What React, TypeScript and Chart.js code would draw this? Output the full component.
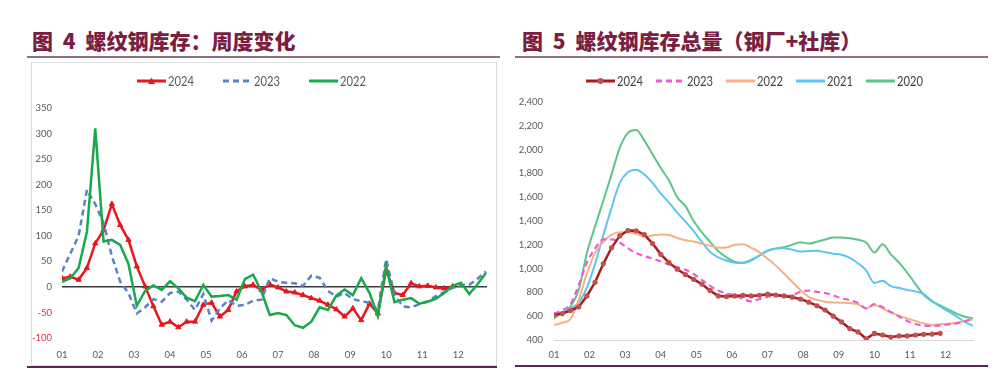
import React, { useEffect, useRef } from "react";
import { Chart, registerables } from "chart.js";

Chart.register(...registerables);

// ---------- shared ----------
const MONTH_LABELS = ["01", "02", "03", "04", "05", "06", "07", "08", "09", "10", "11", "12"];
const WEEKS_PER_YEAR = 52;

// ---------- 图4：周度变化 ----------
const CHANGE_SERIES_NAMES = ["2024", "2023", "2022"];
const CHANGE_2024 = [17, 20, 14, 37, 85, 111, 162, 121, 92, 40, 1, -38, -74, -68, -79, -68, -68, -35, -31, -58, -45, -9, 1, 4, -6, 5, -1, -9, -11, -16, -22, -27, -35, -44, -58, -42, -65, -33, -52, 33, -12, -16, 7, 1, 2, -1, -3, 1];
const CHANGE_2023 = [30, 65, 100, 190, 162, 125, 60, 10, -12, -52, -40, -24, -29, -12, -9, -25, -45, -14, -66, -42, -26, -37, -35, -27, -25, 17, 10, 8, 7, 2, 22, 18, -8, -19, -12, -24, -28, -31, -45, 54, -15, -38, -40, -34, -28, -18, -10, -2, 3, 4, 16, 30];
const CHANGE_2022 = [10, 17, 37, 108, 310, 89, 92, 82, 45, -37, -8, 3, -6, 11, -3, -21, -28, 4, -19, -18, -16, -25, 15, 24, -9, -55, -51, -55, -75, -80, -68, -40, -45, -17, -5, -16, 17, -12, -57, 40, -30, -25, -22, -33, -29, -23, -12, 2, 8, -14, 5, 27];
const CHANGE_Y_MIN = -100;
const CHANGE_Y_MAX = 350;
const CHANGE_Y_STEP = 50;

// ---------- 图5：库存总量 ----------
const TOTAL_SERIES_NAMES = ["2024", "2023", "2022", "2021", "2020"];
const TOTAL_2024 = [610, 622, 648, 678, 770, 885, 1040, 1175, 1275, 1320, 1318, 1285, 1210, 1120, 1050, 995, 950, 910, 870, 815, 770, 765, 770, 775, 770, 776, 785, 778, 770, 760, 744, 718, 688, 652, 600, 552, 496, 468, 410, 455, 442, 425, 434, 434, 442, 448, 450, 456];
const TOTAL_2023 = [620, 650, 700, 860, 1050, 1170, 1245, 1245, 1220, 1170, 1130, 1105, 1084, 1060, 1035, 1010, 990, 955, 905, 855, 815, 790, 775, 745, 725, 742, 762, 775, 770, 775, 805, 815, 805, 795, 775, 750, 735, 712, 665, 702, 675, 635, 598, 560, 535, 520, 518, 523, 530, 540, 558, 582];
const TOTAL_2022 = [526, 545, 575, 735, 960, 1130, 1225, 1285, 1305, 1305, 1292, 1270, 1278, 1287, 1282, 1258, 1238, 1228, 1208, 1192, 1176, 1178, 1200, 1205, 1175, 1138, 1083, 1025, 958, 888, 820, 763, 737, 722, 715, 713, 710, 700, 666, 694, 665, 630, 605, 582, 560, 538, 527, 532, 537, 545, 558, 574];
const TOTAL_2021 = [610, 630, 665, 715, 840, 1040, 1280, 1510, 1720, 1810, 1830, 1790, 1720, 1630, 1555, 1470, 1395, 1315, 1225, 1140, 1095, 1068, 1050, 1047, 1068, 1110, 1150, 1168, 1170, 1158, 1143, 1148, 1150, 1138, 1125, 1117, 1090, 1045, 985, 880, 897, 853, 837, 820, 808, 785, 730, 680, 640, 598, 552, 518];
const TOTAL_2020 = [582, 630, 680, 820, 1130, 1355, 1570, 1790, 2015, 2140, 2165, 2075, 1960, 1845, 1740, 1600, 1525, 1400, 1305, 1225, 1145, 1095, 1058, 1050, 1075, 1110, 1150, 1168, 1180, 1200, 1222, 1210, 1225, 1245, 1262, 1262, 1255, 1242, 1220, 1135, 1205, 1120, 1050, 965, 870, 780, 725, 690, 655, 622, 596, 582];
const TOTAL_Y_MIN = 400;
const TOTAL_Y_MAX = 2400;
const TOTAL_Y_STEP = 200;

// ---------- helpers ----------
const weekToMonth = (i: number) => 1 + (i * 12) / WEEKS_PER_YEAR;
const toPoints = (arr: number[]) => arr.map((y, i) => ({ x: weekToMonth(i), y }));
const monthTicks = (scale: any) => {
  scale.ticks = MONTH_LABELS.map((_, i) => ({ value: i + 1 }));
};
const monthLabel = (v: any) => MONTH_LABELS[Math.round(Number(v)) - 1] ?? "";

const TICK_FONT = { family: "Lato, 'Liberation Sans', sans-serif", size: 9.5 };
const TICK_COLOR = "#595959";
const NEG_COLOR = "#E0302F";

const C_RED = "#E8161D";
const C_BLUE = "#5B82C4";
const C_GREEN = "#19A84C";

const T_2024 = "#A81C22";
const T_2024_PT = "#C0504D";
const T_2023 = "#F25BD0";
const T_2022 = "#F5B183";
const T_2021 = "#5CC6EE";
const T_2020 = "#5EC48B";

const TITLE_COLOR = "#7A1F43";
const RULE_COLOR = "#8E7183";
const BOTTOM_RULE = "#5C2450";

// ---------- charts ----------
function ChangeChart() {
  const ref = useRef<HTMLCanvasElement>(null);
  useEffect(() => {
    const chart = new Chart(ref.current!, {
      type: "line",
      data: {
        datasets: [
          {
            label: CHANGE_SERIES_NAMES[0],
            data: toPoints(CHANGE_2024),
            borderColor: C_RED,
            backgroundColor: C_RED,
            borderWidth: 2.5,
            pointStyle: "triangle",
            pointRadius: 3,
            pointBorderWidth: 1,
            tension: 0,
            order: 2,
          },
          {
            label: CHANGE_SERIES_NAMES[1],
            data: toPoints(CHANGE_2023),
            borderColor: C_BLUE,
            backgroundColor: C_BLUE,
            borderWidth: 2.5,
            borderDash: [6, 4],
            pointRadius: 0,
            tension: 0,
            order: 1,
          },
          {
            label: CHANGE_SERIES_NAMES[2],
            data: toPoints(CHANGE_2022),
            borderColor: C_GREEN,
            backgroundColor: C_GREEN,
            borderWidth: 2.5,
            pointRadius: 0,
            tension: 0,
            order: 0,
          },
        ],
      },
      options: {
        animation: false,
        responsive: false,
        devicePixelRatio: 1,
        layout: { padding: { top: 46, right: 9, bottom: 0, left: 0 } },
        plugins: { legend: { display: false }, tooltip: { enabled: false } },
        scales: {
          x: {
            type: "linear",
            min: 1,
            max: 12.8,
            afterBuildTicks: monthTicks,
            afterFit: (s: any) => { s.height = 27; },
            grid: { display: false, drawTicks: false },
            border: { display: false },
            ticks: { callback: monthLabel, autoSkip: false, maxRotation: 0, padding: 11, color: TICK_COLOR, font: TICK_FONT },
          },
          y: {
            min: CHANGE_Y_MIN,
            max: CHANGE_Y_MAX,
            afterFit: (s: any) => { s.width = 31; },
            grid: {
              drawTicks: false,
              lineWidth: 1.5,
              color: (ctx: any) => (ctx.tick && ctx.tick.value === 0 ? "#3a3a3a" : "rgba(0,0,0,0)"),
            },
            border: { display: false },
            ticks: {
              stepSize: CHANGE_Y_STEP,
              padding: 10,
              font: TICK_FONT,
              color: (ctx: any) => (ctx.tick && ctx.tick.value < 0 ? NEG_COLOR : TICK_COLOR),
            },
          },
        },
      },
    } as any);
    return () => chart.destroy();
  }, []);
  return (
    <canvas
      ref={ref}
      width={465}
      height={303}
      style={{ position: "absolute", left: 31, top: 62, width: 465, height: 303 }}
    />
  );
}

function TotalChart() {
  const ref = useRef<HTMLCanvasElement>(null);
  useEffect(() => {
    const mk = (label: string, arr: number[], color: string, extra: any = {}) => ({
      label,
      data: toPoints(arr),
      borderColor: color,
      backgroundColor: color,
      borderWidth: 2,
      pointRadius: 0,
      tension: 0.3,
      cubicInterpolationMode: "monotone",
      ...extra,
    });
    const chart = new Chart(ref.current!, {
      type: "line",
      data: {
        datasets: [
          mk(TOTAL_SERIES_NAMES[0], TOTAL_2024, T_2024, {
            borderWidth: 2.5,
            pointRadius: 2.6,
            pointBorderWidth: 0,
            pointBackgroundColor: T_2024_PT,
            pointBorderColor: T_2024_PT,
            tension: 0,
            cubicInterpolationMode: "default",
          }),
          mk(TOTAL_SERIES_NAMES[1], TOTAL_2023, T_2023, { borderDash: [6, 4], borderWidth: 2.2 }),
          mk(TOTAL_SERIES_NAMES[2], TOTAL_2022, T_2022),
          mk(TOTAL_SERIES_NAMES[3], TOTAL_2021, T_2021),
          mk(TOTAL_SERIES_NAMES[4], TOTAL_2020, T_2020),
        ],
      },
      options: {
        animation: false,
        responsive: false,
        devicePixelRatio: 1,
        layout: { padding: { top: 40, right: 22, bottom: 0, left: 0 } },
        plugins: { legend: { display: false }, tooltip: { enabled: false } },
        scales: {
          x: {
            type: "linear",
            min: 1,
            max: weekToMonth(WEEKS_PER_YEAR - 1),
            afterBuildTicks: monthTicks,
            afterFit: (s: any) => { s.height = 25; },
            grid: { display: false, drawTicks: false },
            border: { display: true, color: "#d9d9d9", width: 1 },
            ticks: { callback: monthLabel, autoSkip: false, maxRotation: 0, padding: 9.5, color: TICK_COLOR, font: TICK_FONT },
          },
          y: {
            min: TOTAL_Y_MIN,
            max: TOTAL_Y_MAX,
            afterFit: (s: any) => { s.width = 39; },
            grid: { display: false, drawTicks: false },
            border: { display: false },
            ticks: {
              stepSize: TOTAL_Y_STEP,
              padding: 11,
              color: TICK_COLOR,
              font: TICK_FONT,
              callback: (v: any) => Number(v).toLocaleString("en-US"),
            },
          },
        },
      },
    } as any);
    return () => chart.destroy();
  }, []);
  return (
    <canvas
      ref={ref}
      width={480}
      height={303}
      style={{ position: "absolute", left: 515, top: 62, width: 480, height: 303 }}
    />
  );
}

// ---------- legend ----------
type Swatch = { color: string; dash?: string; marker?: "triangle" | "circle"; markerColor?: string; width?: number };

function LegendItem({ label, sw, gapAfter, textColor, bold }: { label: string; sw: Swatch; gapAfter: number; textColor: string; bold?: boolean }) {
  const w = 29;
  return (
    <div style={{ display: "flex", alignItems: "center", marginRight: gapAfter }}>
      <svg width={w} height={10} style={{ display: "block" }}>
        <line x1={0} y1={5} x2={w} y2={5} stroke={sw.color} strokeWidth={sw.width ?? 3} strokeDasharray={sw.dash} />
        {sw.marker === "triangle" && <polygon points={`${w / 2 - 3.5},8 ${w / 2 + 3.5},8 ${w / 2},1.5`} fill={sw.markerColor ?? sw.color} />}
        {sw.marker === "circle" && <circle cx={w / 2} cy={5} r={3} fill={sw.markerColor ?? sw.color} />}
      </svg>
      <span
        style={{
          display: "inline-block",
          marginLeft: 2,
          fontFamily: "Lato, 'Liberation Sans', sans-serif",
          fontSize: 14,
          fontWeight: bold ? 700 : 400,
          color: textColor,
          transform: "scaleX(0.8)",
          transformOrigin: "left center",
          width: 26,
          lineHeight: "16px",
          whiteSpace: "nowrap",
        }}
      >
        {label}
      </span>
    </div>
  );
}

const titleStyle: React.CSSProperties = {
  position: "absolute",
  top: 30,
  fontFamily: "'Noto Sans CJK SC', sans-serif",
  fontWeight: 900,
  fontSize: 21,
  lineHeight: "21px",
  color: TITLE_COLOR,
  whiteSpace: "nowrap",
  wordSpacing: 5,
};

export default function App() {
  return (
    <div style={{ position: "absolute", left: 0, top: 0, width: 1000, height: 369, background: "#ffffff", overflow: "hidden" }}>
      {/* 图4 */}
      <div style={{ ...titleStyle, left: 32 }}>图 4 螺纹钢库存：周度变化</div>
      <div style={{ position: "absolute", left: 27, top: 56, width: 473, height: 2, background: RULE_COLOR }} />
      <div style={{ position: "absolute", left: 31, top: 62, width: 464, height: 302, border: "1px solid #dcdcdc" }} />
      <ChangeChart />
      <div style={{ position: "absolute", left: 137, top: 73, display: "flex", alignItems: "center" }}>
        <LegendItem label={CHANGE_SERIES_NAMES[0]} sw={{ color: C_RED, marker: "triangle" }} gapAfter={29} textColor="#595959" />
        <LegendItem label={CHANGE_SERIES_NAMES[1]} sw={{ color: C_BLUE, dash: "6 4" }} gapAfter={29} textColor="#595959" />
        <LegendItem label={CHANGE_SERIES_NAMES[2]} sw={{ color: C_GREEN }} gapAfter={0} textColor="#595959" />
      </div>
      <div style={{ position: "absolute", left: 27, top: 366, width: 470, height: 2, background: BOTTOM_RULE }} />

      {/* 图5 */}
      <div style={{ ...titleStyle, left: 522 }}>图 5 螺纹钢库存总量（钢厂+社库）</div>
      <div style={{ position: "absolute", left: 515, top: 56, width: 473, height: 2, background: RULE_COLOR }} />
      <TotalChart />
      <div style={{ position: "absolute", left: 586, top: 73, display: "flex", alignItems: "center" }}>
        <LegendItem label={TOTAL_SERIES_NAMES[0]} sw={{ color: T_2024, marker: "circle", markerColor: T_2024_PT }} gapAfter={13} textColor="#404040" />
        <LegendItem label={TOTAL_SERIES_NAMES[1]} sw={{ color: T_2023, dash: "6 4" }} gapAfter={13} textColor="#404040" />
        <LegendItem label={TOTAL_SERIES_NAMES[2]} sw={{ color: T_2022 }} gapAfter={13} textColor="#404040" />
        <LegendItem label={TOTAL_SERIES_NAMES[3]} sw={{ color: T_2021 }} gapAfter={13} textColor="#404040" />
        <LegendItem label={TOTAL_SERIES_NAMES[4]} sw={{ color: T_2020 }} gapAfter={0} textColor="#404040" />
      </div>
      <div style={{ position: "absolute", left: 515, top: 365, width: 473, height: 2, background: BOTTOM_RULE }} />
    </div>
  );
}
